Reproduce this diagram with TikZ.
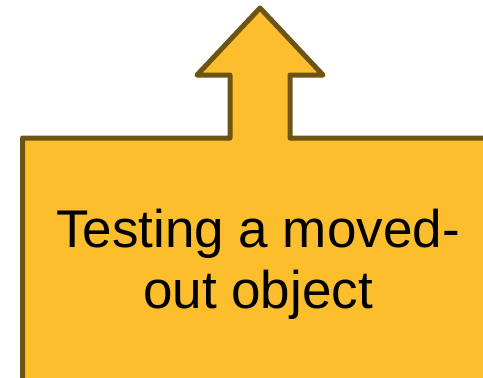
\documentclass[tikz,border=0pt]{standalone}
\usepackage{fontspec}
\setmainfont{Liberation Sans}
\usepackage{tikz}
\usetikzlibrary{positioning, calc}
\definecolor{calloutfill}{RGB}{252,190,45}
\definecolor{calloutline}{RGB}{110,84,20}
\tikzset{
  callout/.style={draw=calloutline, fill=calloutfill, line width=5pt, line join=round},
  calltext/.style={align=center, text=black, font=\fontsize{53}{61}\selectfont}
}

\begin{document}
\begin{tikzpicture}[x=1pt, y=-1pt]
    % Marco de la imagen
    \useasboundingbox (0,0) rectangle (483,378);
    \clip (0,0) rectangle (483,378);

    % --- Flecha hacia arriba con caja ---
    \draw [callout] (22.5,520) -- (22.5,138) -- (230,138) -- (230,75)
        -- (197,75) -- (260,8) -- (323,75) -- (290,75) -- (290,138)
        -- (620,138) -- (620,520) -- cycle;

    % --- Texto ---
    \node (label) [calltext] at (258,264) {Testing a moved-\\out object};
\end{tikzpicture}
\end{document}
